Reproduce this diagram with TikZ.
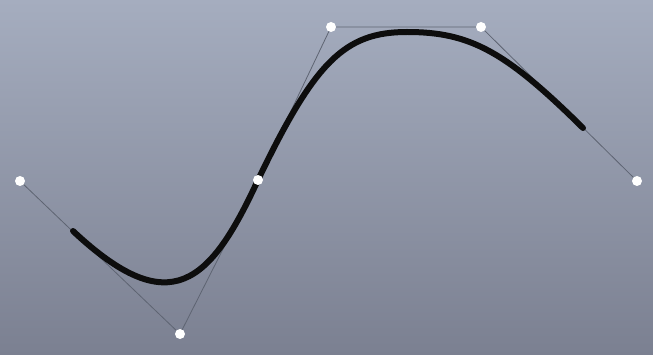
\documentclass[tikz,border=0pt]{standalone}
\begin{document}
\begin{tikzpicture}[x=1pt,y=-1pt,
  ctrlpt/.style={circle, fill=white, inner sep=0pt, minimum size=10pt},
  curveline/.style={line width=6pt, line cap=round, draw=black!95}]
\definecolor{bgtop}{HTML}{A5ADBF}
\definecolor{bgbot}{HTML}{7B8091}
\definecolor{polyc}{HTML}{5E6472}
\useasboundingbox (0,0) rectangle (653,355);
\shade[top color=bgtop, bottom color=bgbot] (0,0) rectangle (653,355);
\coordinate (p0) at (20,181);
\coordinate (p1) at (180,334);
\coordinate (p2) at (258,180);
\coordinate (p3) at (331,27);
\coordinate (p4) at (481,27);
\coordinate (p5) at (637,181);
\draw[draw=polyc, line width=0.8pt] (p0) -- (p1) -- (p2) -- (p3) -- (p4) -- (p5);
\coordinate (s) at (73,231);
\coordinate (m) at (407,32);
\coordinate (e) at (583,128);
\draw[curveline] (s) .. controls (170,322) and (210,284) .. (p2)
  .. controls (314.8,61.6) and (344.6,32) .. (m)
  .. controls (470,32) and (505.4,51.2) .. (e);
\foreach \p in {p0,p1,p2,p3,p4,p5} \node[ctrlpt] (n\p) at (\p) {};
\end{tikzpicture}
\end{document}
